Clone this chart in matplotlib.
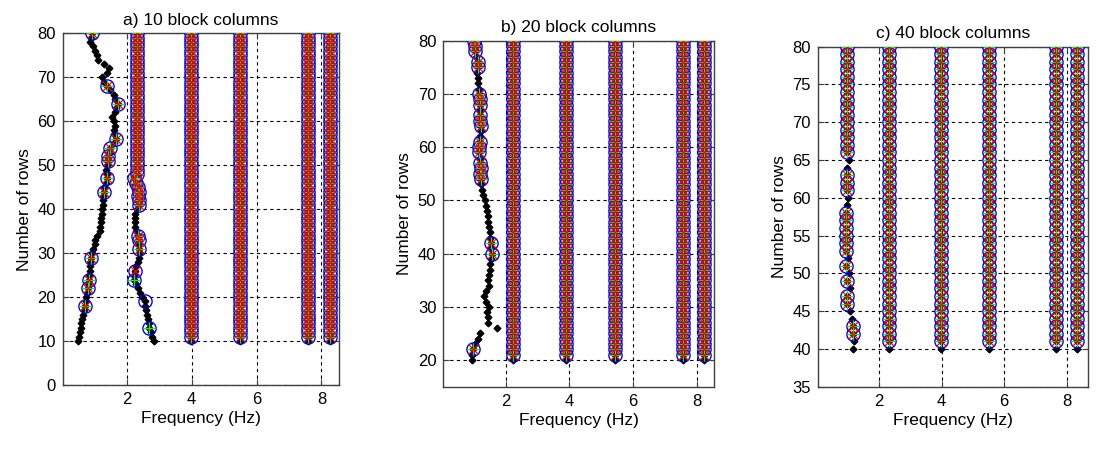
import matplotlib.pyplot as plt

plt.rcParams['font.family'] = ['Liberation Sans', 'DejaVu Sans']

FREQ_TICKS = [2, 4, 6, 8]

# a) 10 block columns: frequency of each mode for 10..80 rows
ROWS_A = list(range(10, 81))
MODE1_A = [0.50, 0.52, 0.55, 0.58, 0.60, 0.63, 0.66, 0.70, 0.73, 0.74,   # 10-19
           0.76, 0.78, 0.80, 0.81, 0.83, 0.84, 0.86, 0.87, 0.88, 0.90,   # 20-29
           0.93, 0.97, 1.01, 1.04, 1.10, 1.17, 1.19, 1.20, 1.22, 1.23,   # 30-39
           1.24, 1.26, 1.28, 1.27, 1.29, 1.31, 1.36, 1.40, 1.38, 1.36,   # 40-49
           1.38, 1.42, 1.43, 1.48, 1.50, 1.60, 1.68, 1.62, 1.60, 1.63,   # 50-59
           1.60, 1.55, 1.65, 1.68, 1.72, 1.65, 1.60, 1.50, 1.40, 1.30,   # 60-69
           1.24, 1.40, 1.45, 1.30, 1.12, 1.08, 1.04, 0.95, 0.88, 0.90,   # 70-79
           0.93]
MODE2_A = [2.83, 2.78, 2.74, 2.70, 2.68, 2.66, 2.62, 2.60, 2.57, 2.55,   # 10-19
           2.47, 2.42, 2.35, 2.28, 2.22, 2.24, 2.25, 2.30, 2.35, 2.38,   # 20-29
           2.42, 2.37, 2.36, 2.37, 2.35, 2.30, 2.27, 2.26, 2.25, 2.27,   # 30-39
           2.33, 2.37, 2.38, 2.36, 2.38, 2.36, 2.30, 2.24] + [2.32] * 33
COLS_A = [3.98, 5.48, 7.60, 8.27]
HIT1_A = [18, 22, 24, 29, 44, 47, 51, 52, 54, 56, 64, 68, 80]
CIRC2_A = [13, 19, 24, 26, 31, 33, 34] + list(range(41, 81))
CROSS2_A = [26, 31, 33, 34] + list(range(41, 81))
PLUS2_A = [13, 24, 31, 33, 34] + list(range(41, 81))

# b) 20 block columns
ROWS_B = list(range(20, 81))
MODE1_B = [0.94, 0.95, 0.97, 1.04, 1.12, 1.20, 1.73, 1.44, 1.44, 1.41,   # 20-29
           1.49, 1.37, 1.33, 1.39, 1.47, 1.43, 1.47, 1.52, 1.50, 1.55,   # 30-39
           1.58, 1.55, 1.53, 1.52, 1.50, 1.46, 1.45, 1.45, 1.41, 1.37,   # 40-49
           1.35, 1.30, 1.26, 1.22, 1.21, 1.20, 1.21, 1.20, 1.18, 1.17,   # 50-59
           1.16, 1.19, 1.20, 1.21, 1.21, 1.20, 1.20, 1.19, 1.19, 1.18,   # 60-69
           1.17, 1.15, 1.13, 1.12, 1.10, 1.12, 1.13, 1.07, 1.03, 1.02,   # 70-79
           1.01]
MODE2_B = 2.22
COLS_B = [3.91, 5.43, 7.57, 8.22]
HIT1_B = [22, 40, 42, 54, 55, 56, 57, 59, 60, 61, 64, 65, 66, 68, 69, 70,
          75, 76, 78, 79, 80]

# c) 40 block columns
ROWS_C = list(range(40, 81))
MODE1_C = [1.17, 1.20, 1.18, 1.16, 1.12, 1.08, 0.99, 0.98, 1.08, 0.97,   # 40-49
           1.05, 0.94, 1.00, 0.95, 0.94, 0.94, 0.94, 0.95, 0.95, 0.98,   # 50-59
           1.02, 0.96, 0.96, 0.97, 0.99, 1.03, 0.99, 0.98, 0.97, 0.97,   # 60-69
           0.97, 0.97, 0.96, 0.96, 0.97, 0.97, 0.97, 0.96, 0.96, 0.96,   # 70-79
           0.96]
MODE2_C = 2.31
COLS_C = [3.98, 5.52, 7.65, 8.32]
HIT1_C = [42, 43, 46, 47, 49, 51, 53, 54, 55, 56, 57, 58, 61, 62, 63] + \
    list(range(66, 81))


def pick(rows, freqs, keep):
    pts = [(f, r) for r, f in zip(rows, freqs) if r in keep]
    return [p[0] for p in pts], [p[1] for p in pts]


def draw_mode(ax, rows, freqs, circ, cross=None, plus=None):
    cross = circ if cross is None else cross
    plus = circ if plus is None else plus
    ax.plot(freqs, rows, ls='none', marker='D', ms=3.4, color='k', zorder=3)
    x, y = pick(rows, freqs, circ)
    ax.plot(x, y, ls='none', marker='o', ms=9.5, mfc='none', mec='b',
            mew=1.0, zorder=4)
    x, y = pick(rows, freqs, plus)
    ax.plot(x, y, ls='none', marker='+', ms=8.5, color='#00ff00', mew=0.9,
            zorder=5)
    x, y = pick(rows, freqs, cross)
    ax.plot(x, y, ls='none', marker='x', ms=7.5, color='r', mew=0.9,
            zorder=6)


def make_panel(fig, rect, title, rows, mode1, hit1, mode2, cols,
               ylim, yticks, xmax=8.54, mode2_hits=None):
    ax = fig.add_axes(rect)
    first = rows[0] + 1
    full = list(range(first, rows[-1] + 1))
    draw_mode(ax, rows, mode1, hit1)
    if isinstance(mode2, float):
        mode2 = [mode2] * len(rows)
    if mode2_hits is None:
        draw_mode(ax, rows, mode2, full)
    else:
        draw_mode(ax, rows, mode2, *mode2_hits)
    for f in cols:
        draw_mode(ax, rows, [f] * len(rows), full)
    ax.set_xlim(0.04, xmax)
    ax.set_ylim(*ylim)
    ax.set_xticks(FREQ_TICKS)
    ax.set_yticks(yticks)
    ax.grid(True, color='k', linestyle=(0, (3, 3)), linewidth=0.8)
    ax.set_axisbelow(True)
    ax.tick_params(direction='in', length=4, top=True, right=True,
                   labelsize=12, pad=5, color='#404040')
    for sp in ax.spines.values():
        sp.set_color('#404040')
        sp.set_linewidth(1.0)
    ax.set_title(title, fontsize=12.5, pad=6)
    ax.set_xlabel('Frequency (Hz)', fontsize=12.5, labelpad=3)
    ax.set_ylabel('Number of rows', fontsize=12.5, labelpad=4)
    return ax


def main():
    fig = plt.figure(figsize=(10.96, 4.5), dpi=100)
    make_panel(fig, [0.0575, 0.1444, 0.2518, 0.7816],
               'a) 10 block columns', ROWS_A, MODE1_A, HIT1_A, MODE2_A,
               COLS_A, (0, 80), range(0, 81, 10),
               mode2_hits=(CIRC2_A, CROSS2_A, PLUS2_A))
    make_panel(fig, [0.4045, 0.1407, 0.2467, 0.7689],
               'b) 20 block columns', ROWS_B, MODE1_B, HIT1_B, MODE2_B,
               COLS_B, (15, 80), range(20, 81, 10))
    make_panel(fig, [0.7461, 0.1407, 0.2466, 0.7556],
               'c) 40 block columns', ROWS_C, MODE1_C, HIT1_C, MODE2_C,
               COLS_C, (35, 80), range(35, 81, 5), xmax=8.68)
    fig.savefig('out.png', dpi=100)


if __name__ == '__main__':
    main()
